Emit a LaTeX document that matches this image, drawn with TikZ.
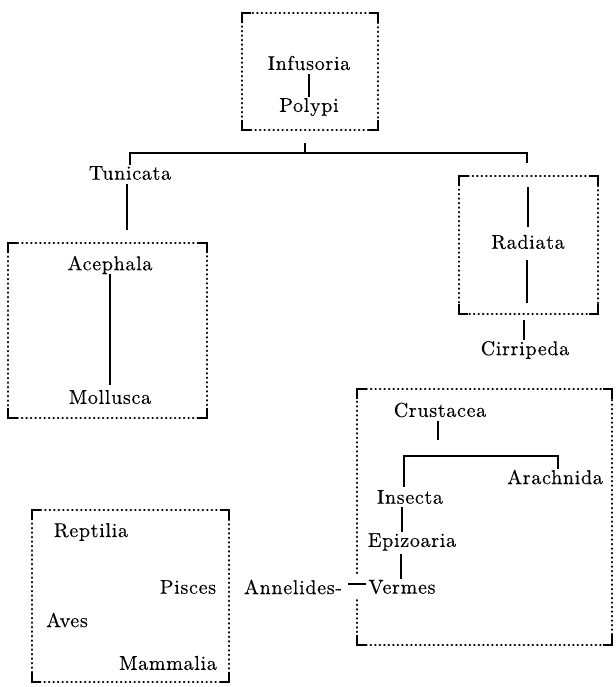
\documentclass[tikz,border=0pt]{standalone}
\usepackage{fontspec}
\setmainfont{lmroman10-regular.otf}[LetterSpace=3.5, FakeBold=0.3]
\begin{document}
\begin{tikzpicture}[x=1pt,y=-1pt,
  lbl/.style={inner sep=1pt, font=\fontsize{20}{22}\selectfont},
  dotline/.style={line width=2.5pt, line cap=round, dash pattern=on 0.3pt off 4.2pt},
  corner/.style={line width=1.9pt},
  link/.style={line width=1.8pt}]
\useasboundingbox (0,0) rectangle (615,687);
\newcommand\cornersx[4]{%
  \draw[corner] (#1,#2+10) -- (#1,#2) -- (#1+9,#2);
  \draw[corner] (#3-9,#2) -- (#3,#2) -- (#3,#2+10);
  \draw[corner] (#1,#4-10) -- (#1,#4) -- (#1+9,#4);
  \draw[corner] (#3-9,#4) -- (#3,#4) -- (#3,#4-10);}
\newcommand\dotboxx[4]{%
  \draw[dotline] (#1,#2) rectangle (#3,#4);
  \cornersx{#1}{#2}{#3}{#4}}

% boxes
\dotboxx{242}{13}{378}{130}
\dotboxx{8}{243}{207}{418}
\dotboxx{459}{176}{598}{314}
\dotboxx{32}{510}{229}{682}
% Crustacea box with gap on the left side
\draw[dotline] (357,573) -- (357,389) -- (612,389) -- (612,645) -- (357,645) -- (357,598);
\cornersx{357}{389}{612}{645}

% top box
\node[lbl] (inf) at (309,63) {Infusoria};
\node[lbl] (pol) at (309,107) {Polypi};
\draw[link] (inf.south -| 309,0) ++(0,3) -- (pol.north -| 309,0);
\coordinate (topb) at (305,143);
\coordinate (br) at (305,153);
\draw[link] (topb) -- (br);
\node[lbl] (tun) at (130,173) {Tunicata};
\coordinate (rad-top) at (527,163);
\draw[link] (tun.north -| 130,0) -- (130,153) -- (527,153) -- (rad-top);

% Mollusca group
\coordinate (ace-box) at (127,230);
\draw[link] (tun.south -| 127,0) ++(0,3) -- (ace-box);
\node[lbl] (ace) at (110,265) {Acephala};
\node[lbl] (mol) at (110,397) {Mollusca};
\draw[link] (ace.south -| 110,0) ++(0,-1) -- ([yshift=4pt]mol.north -| 110,0);

% Radiata
\node[lbl] (rad) at (528,242) {Radiata};
\coordinate (r1) at (528,187);
\coordinate (r2) at (527,303);
\draw[link] (r1) -- (528,227);
\draw[link] (527,260) -- (r2);
\node[lbl] (cir) at (525,350) {Cirripeda};
\coordinate (r3) at (524,320);
\draw[link] (r3) -- (cir.north -| 524,0);

% Articulata box
\node[lbl] (cru) at (440,410) {Crustacea};
\coordinate (c1) at (438,440);
\draw[link] (cru.south -| 438,0) ++(0,3) -- (c1);
\node[lbl] (ara) at (555,477) {Arachnida};
\node[lbl] (ins) at (410,497) {Insecta};
\draw[link] (ins.north -| 404,0) ++(0,-2) -- (404,456) -- (558,456) -- (ara.north -| 558,0);
\node[lbl] (epi) at (412,542) {Epizoaria};
\node[lbl] (ver) at (402,587) {Vermes};
\draw[link] (ins.south -| 402,0) ++(0,2) -- (epi.north -| 402,0);
\draw[link] (epi.south -| 401,0) ++(0,2) -- (ver.north -| 401,0);
\node[lbl] (ann) at (293,587) {Annelides-};
\draw[link] ([xshift=5pt]ann.east |- 0,584) -- ([xshift=-1pt]ver.west |- 0,584);

% Vertebrata
\node[lbl] (rep) at (91,532) {Reptilia};
\node[lbl] (pis) at (188,587) {Pisces};
\node[lbl] (ave) at (67,620) {Aves};
\node[lbl] (mam) at (168,663) {Mammalia};
\end{tikzpicture}
\end{document}
